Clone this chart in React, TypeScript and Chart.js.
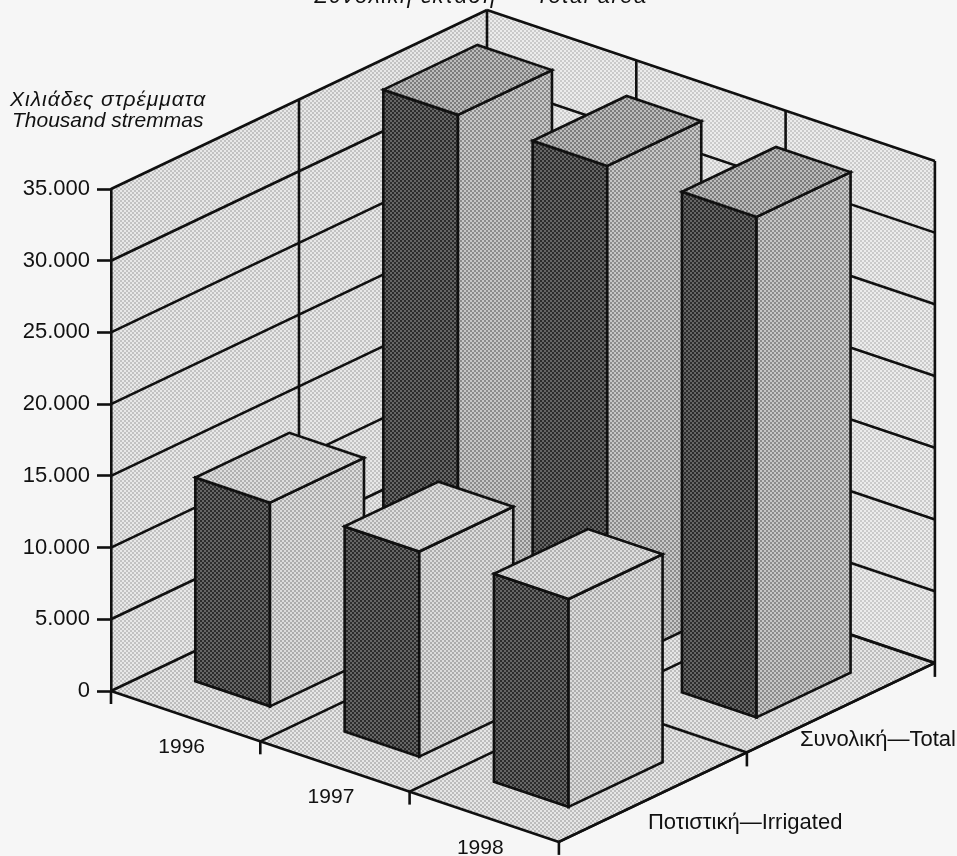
import React, { useEffect, useRef } from "react";
import { Chart, registerables, BarController } from "chart.js";

const years = ["1996", "1997", "1998"];
const irrigated = [14200, 14300, 14500];
const total = [35000, 34950, 34900];
const yTicksMax = 35000;
const yStep = 5000;
const irrigatedLabel = "Ποτιστική—Irrigated";
const totalLabel = "Συνολική—Total";
const titleText = "Συνολική έκταση — Total area";
const unitGreek = "Χιλιάδες στρέμματα";
const unitEnglish = "Thousand stremmas";

const FONT = '"Liberation Sans", Arial, sans-serif';
const INK = "#101010";
// oblique projection: one category step and one series step, in pixels
const CAT_STEP = { x: 149.3, y: 50.3 };
const SER_STEP = { x: 188, y: -89.5 };

type Pt = { x: number; y: number };

function origin(chart: any): Pt {
  return { x: chart.chartArea.left, y: chart.scales.y.getPixelForValue(0) };
}
function project(chart: any, u: number, v: number, value = 0): Pt {
  const o = origin(chart);
  const y = chart.scales.y;
  return {
    x: o.x + u * CAT_STEP.x + v * SER_STEP.x,
    y: o.y + u * CAT_STEP.y + v * SER_STEP.y + (y.getPixelForValue(value) - y.getPixelForValue(0)),
  };
}

const patterns: Record<string, CanvasPattern | string> = {};
function pattern(ctx: CanvasRenderingContext2D, light: string, dark: string) {
  const key = light + dark;
  if (patterns[key]) return patterns[key];
  const c = document.createElement("canvas");
  c.width = 4;
  c.height = 4;
  const g = c.getContext("2d")!;
  g.fillStyle = light;
  g.fillRect(0, 0, 4, 4);
  g.fillStyle = dark;
  g.fillRect(0, 0, 2, 2);
  g.fillRect(2, 2, 2, 2);
  const p = ctx.createPattern(c, "repeat")!;
  patterns[key] = p;
  return p;
}

function poly(ctx: CanvasRenderingContext2D, pts: Pt[], fill: any, lw = 2.6) {
  ctx.beginPath();
  pts.forEach((p, i) => (i ? ctx.lineTo(p.x, p.y) : ctx.moveTo(p.x, p.y)));
  ctx.closePath();
  if (fill) {
    ctx.fillStyle = fill;
    ctx.fill();
  }
  if (lw) {
    ctx.lineWidth = lw;
    ctx.strokeStyle = INK;
    ctx.lineJoin = "miter";
    ctx.stroke();
  }
}
function line(ctx: CanvasRenderingContext2D, a: Pt, b: Pt, lw = 2.6) {
  ctx.beginPath();
  ctx.moveTo(a.x, a.y);
  ctx.lineTo(b.x, b.y);
  ctx.lineWidth = lw;
  ctx.strokeStyle = INK;
  ctx.stroke();
}

const FACE_STYLES = [
  { side: ["#666666", "#2c2c2c"], front: ["#dcdcdc", "#acacac"], top: ["#dedede", "#b0b0b0"] },
  { side: ["#666666", "#2c2c2c"], front: ["#c8c8c8", "#8c8c8c"], top: ["#bcbcbc", "#7c7c7c"] },
];

class Bar3DController extends BarController {
  static id = "bar3d";
  draw() {
    const chart: any = this.chart;
    const ctx = chart.ctx;
    const row = this.index;
    const style = FACE_STYLES[row];
    const values = this.getDataset().data as number[];
    values.forEach((value, i) => {
      const u0 = i + 0.25;
      const u1 = i + 0.75;
      const v0 = row + 0.25;
      const v1 = row + 0.75;
      const P = (u: number, v: number, val = 0) => project(chart, u, v, val);
      poly(
        ctx,
        [P(u0, v0), P(u1, v0), P(u1, v0, value), P(u0, v0, value)],
        pattern(ctx, style.side[0], style.side[1])
      );
      poly(
        ctx,
        [P(u1, v0), P(u1, v1), P(u1, v1, value), P(u1, v0, value)],
        pattern(ctx, style.front[0], style.front[1])
      );
      poly(
        ctx,
        [P(u0, v0, value), P(u1, v0, value), P(u1, v1, value), P(u0, v1, value)],
        pattern(ctx, style.top[0], style.top[1])
      );
    });
  }
}

const scenePlugin = {
  id: "scene3d",
  beforeDatasetsDraw(chart: any) {
    const ctx: CanvasRenderingContext2D = chart.ctx;
    const nu = years.length;
    const nv = 2;
    const P = (u: number, v: number, val = 0) => project(chart, u, v, val);
    ctx.save();
    // walls and floor
    poly(ctx, [P(0, 0), P(0, nv), P(0, nv, yTicksMax), P(0, 0, yTicksMax)], pattern(ctx, "#e8e8e8", "#c2c2c2"), 0);
    poly(ctx, [P(0, nv), P(nu, nv), P(nu, nv, yTicksMax), P(0, nv, yTicksMax)], pattern(ctx, "#ececec", "#cacaca"), 0);
    poly(ctx, [P(0, 0), P(nu, 0), P(nu, nv), P(0, nv)], pattern(ctx, "#e6e6e6", "#bcbcbc"), 0);
    // horizontal grid on the walls
    chart.scales.y.ticks.forEach((t: any) => {
      line(ctx, P(0, 0, t.value), P(0, nv, t.value));
      line(ctx, P(0, nv, t.value), P(nu, nv, t.value));
    });
    // verticals on the walls
    for (let v = 1; v <= nv; v++) line(ctx, P(0, v), P(0, v, yTicksMax));
    for (let u = 1; u <= nu; u++) line(ctx, P(u, nv), P(u, nv, yTicksMax));
    // floor grid and edges
    for (let u = 1; u <= nu; u++) line(ctx, P(u, 0), P(u, nv));
    for (let v = 1; v <= nv; v++) line(ctx, P(0, v), P(nu, v));
    line(ctx, P(0, 0), P(nu, 0));
    line(ctx, P(nu, 0), P(nu, nv));
    // axis ticks below the floor
    for (let u = 0; u <= nu; u++) {
      const a = P(u, 0);
      line(ctx, a, { x: a.x, y: a.y + 13 });
    }
    for (let v = 1; v <= nv; v++) {
      const a = P(nu, v);
      line(ctx, a, { x: a.x, y: a.y + 14 });
    }
    ctx.restore();
  },
  afterDraw(chart: any) {
    const ctx: any = chart.ctx;
    const P = (u: number, v: number) => project(chart, u, v);
    ctx.save();
    ctx.fillStyle = "#111111";
    ctx.textBaseline = "alphabetic";
    // category labels
    ctx.font = `21px ${FONT}`;
    ctx.textAlign = "center";
    years.forEach((y, i) => {
      const a = P(i + 0.5, 0);
      ctx.fillText(y, a.x - 4, a.y + 37);
    });
    // series labels
    ctx.textAlign = "left";
    ctx.font = `22px ${FONT}`;
    const s0 = P(3, 0.5);
    ctx.fillText(irrigatedLabel, s0.x - 5, s0.y + 32);
    const s1 = P(3, 1.5);
    ctx.fillText(totalLabel, s1.x - 41, s1.y + 38);
    // headings
    ctx.font = `italic 21px ${FONT}`;
    ctx.letterSpacing = "1px";
    ctx.fillText(unitGreek, 10, 106);
    ctx.letterSpacing = "0px";
    ctx.fillText(unitEnglish, 12, 127);
    ctx.font = `italic 22px ${FONT}`;
    ctx.letterSpacing = "1.5px";
    ctx.textAlign = "center";
    ctx.fillText(titleText, 481, 3);
    ctx.restore();
  },
};

Chart.register(...registerables, Bar3DController as any);

export default function App() {
  const ref = useRef<HTMLCanvasElement>(null);
  useEffect(() => {
    document.body.style.margin = "0";
    const chart = new Chart(ref.current!, {
      type: "bar3d" as any,
      data: {
        labels: years,
        datasets: [
          { label: irrigatedLabel, data: irrigated, clip: false },
          { label: totalLabel, data: total, clip: false },
        ] as any,
      },
      plugins: [scenePlugin],
      options: {
        animation: false,
        responsive: false,
        devicePixelRatio: 1,
        layout: { padding: { top: 189, bottom: 165, left: 0, right: 22 } },
        plugins: { legend: { display: false }, title: { display: false }, tooltip: { enabled: false } },
        scales: {
          x: { display: false },
          y: {
            min: 0,
            max: yTicksMax,
            afterFit: (s: any) => {
              s.width = 111;
            },
            border: { display: true, color: INK, width: 2.6, z: 1 },
            grid: { drawOnChartArea: false, drawTicks: true, tickLength: 14, tickWidth: 2.6, tickColor: INK },
            ticks: {
              stepSize: yStep,
              padding: 7,
              color: "#111111",
              font: { family: FONT, size: 22 },
              callback: (v: any) => String(v).replace(/\B(?=(\d{3})+$)/g, "."),
            },
          },
        },
      } as any,
    });
    return () => chart.destroy();
  }, []);
  return (
    <div style={{ position: "fixed", left: 0, top: 0, width: 957, height: 856, background: "#f6f6f6", overflow: "hidden" }}>
      <canvas ref={ref} width={957} height={856} style={{ display: "block" }} />
    </div>
  );
}
